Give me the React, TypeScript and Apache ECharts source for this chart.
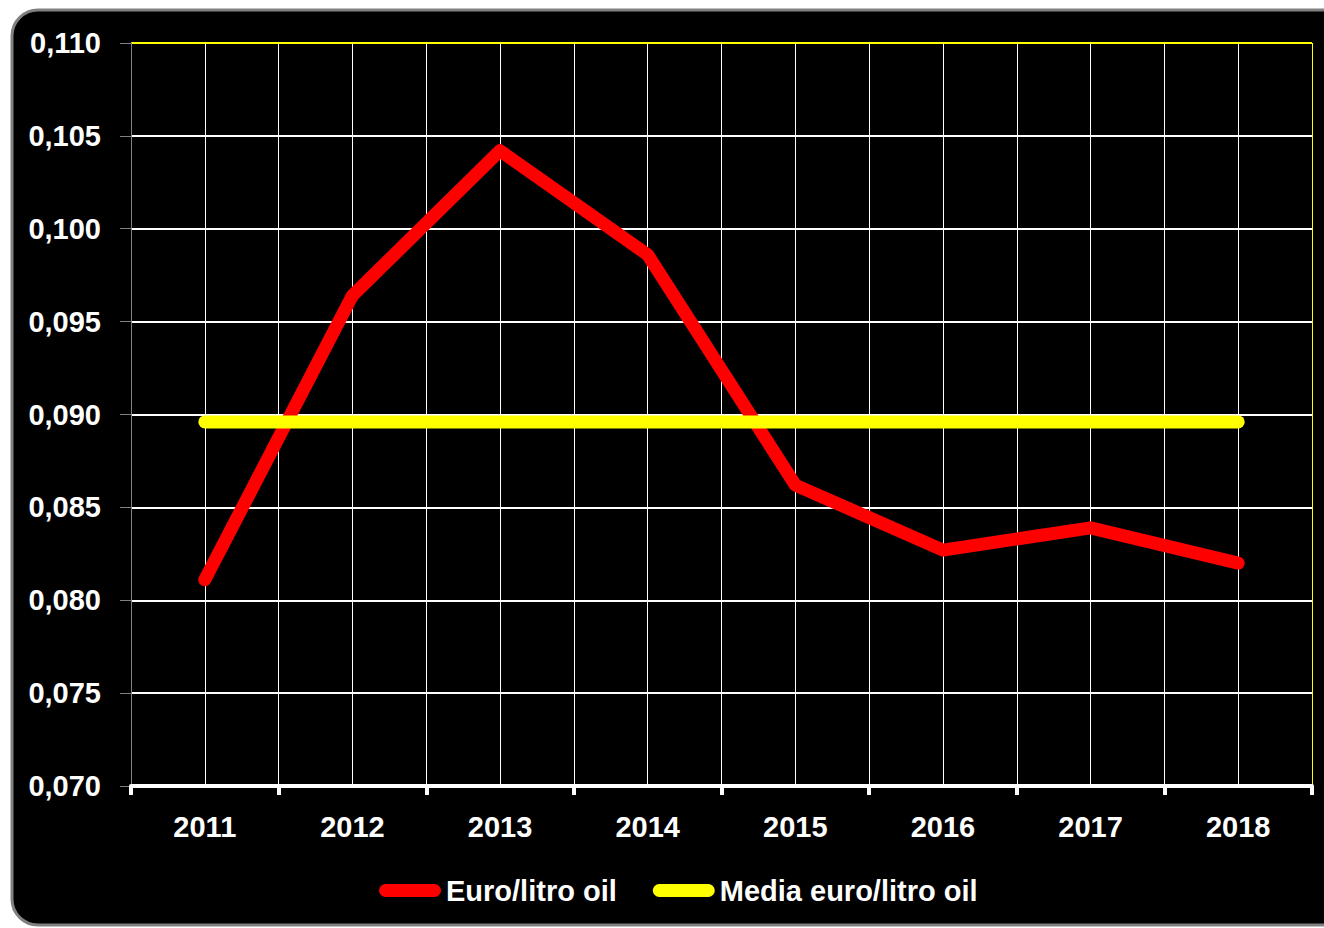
import React, { useEffect, useRef } from "react";
import * as echarts from "echarts";

const years = ["2011", "2012", "2013", "2014", "2015", "2016", "2017", "2018"];
const euroLitro = [0.0811, 0.0964, 0.1042, 0.0986, 0.0862, 0.0827, 0.0839, 0.082];
const mediaEuroLitro = [0.0896, 0.0896, 0.0896, 0.0896, 0.0896, 0.0896, 0.0896, 0.0896];
const seriesNames = ["Euro/litro oil", "Media euro/litro oil"];

const FONT = "'Liberation Sans', Arial, sans-serif";

export default function App() {
  const ref = useRef<HTMLDivElement>(null);
  useEffect(() => {
    if (!ref.current) return;
    const chart = echarts.init(ref.current, null, { renderer: "svg" });
    const ySplitColors = ["#ffffff", "#ffffff", "#ffffff", "#ffffff", "#ffffff", "#ffffff", "#ffffff", "#ffffff", "#ffff00"];
    const xSplitColors: string[] = [];
    for (let i = 0; i <= 16; i++) xSplitColors.push(i === 0 ? "#808080" : i === 16 ? "#ffff00" : "#ffffff");
    chart.setOption({
      animation: false,
      backgroundColor: "#ffffff",
      graphic: [
        {
          type: "rect",
          z: -10,
          silent: true,
          shape: { x: 12, y: 10, width: 1340, height: 915, r: 26 },
          style: { fill: "#000000", stroke: "#808080", lineWidth: 3 },
        },
      ],
      grid: { left: 131, top: 43, right: 12, bottom: 142, containLabel: false },
      legend: {
        bottom: 18,
        left: 374,
        itemWidth: 62,
        itemHeight: 13,
        itemGap: 36,
        icon: "path://M6.5,0 H55.5 A6.5,6.5 0 0 1 55.5,13 H6.5 A6.5,6.5 0 0 1 6.5,0 Z",
        textStyle: { color: "#ffffff", fontFamily: FONT, fontWeight: "bold", fontSize: 29 },
        data: seriesNames,
      },
      xAxis: [
        {
          type: "category",
          data: years,
          boundaryGap: true,
          axisLine: { show: true, lineStyle: { color: "#ffffff", width: 4 } },
          axisTick: { show: true, length: 9, interval: 0, lineStyle: { color: "#ffffff", width: 4 } },
          axisLabel: { color: "#ffffff", fontFamily: FONT, fontWeight: "bold", fontSize: 29, margin: 26 },
          splitLine: { show: false },
          z: 5,
        },
        {
          type: "value",
          min: 0,
          max: 16,
          interval: 1,
          show: true,
          axisLine: { show: false },
          axisTick: { show: false },
          axisLabel: { show: false },
          splitLine: { show: true, lineStyle: { color: xSplitColors, width: 1 } },
        },
      ],
      yAxis: {
        type: "value",
        min: 0.07,
        max: 0.11,
        interval: 0.005,
        axisLine: { show: true, lineStyle: { color: "#808080", width: 1 } },
        axisTick: { show: true, length: 11, lineStyle: { color: "#808080", width: 1 } },
        axisLabel: {
          color: "#ffffff",
          fontFamily: FONT,
          fontWeight: "bold",
          fontSize: 29,
          margin: 30,
          formatter: (v: number) => v.toFixed(3).replace(".", ","),
        },
        splitLine: { show: true, lineStyle: { color: ySplitColors, width: 2 } },
      },
      series: [
        {
          name: seriesNames[0],
          type: "line",
          data: euroLitro,
          xAxisIndex: 0,
          showSymbol: false,
          symbol: "none",
          lineStyle: { color: "#ff0000", width: 13, cap: "round", join: "round" },
          itemStyle: { color: "#ff0000" },
          z: 3,
        },
        {
          name: seriesNames[1],
          type: "line",
          data: mediaEuroLitro,
          xAxisIndex: 0,
          showSymbol: false,
          symbol: "none",
          lineStyle: { color: "#ffff00", width: 13, cap: "round", join: "round" },
          itemStyle: { color: "#ffff00" },
          z: 4,
        },
      ],
    });
    return () => chart.dispose();
  }, []);
  return (
    <div
      ref={ref}
      style={{ position: "fixed", left: 0, top: 0, width: 1324, height: 928, background: "#ffffff" }}
    />
  );
}
